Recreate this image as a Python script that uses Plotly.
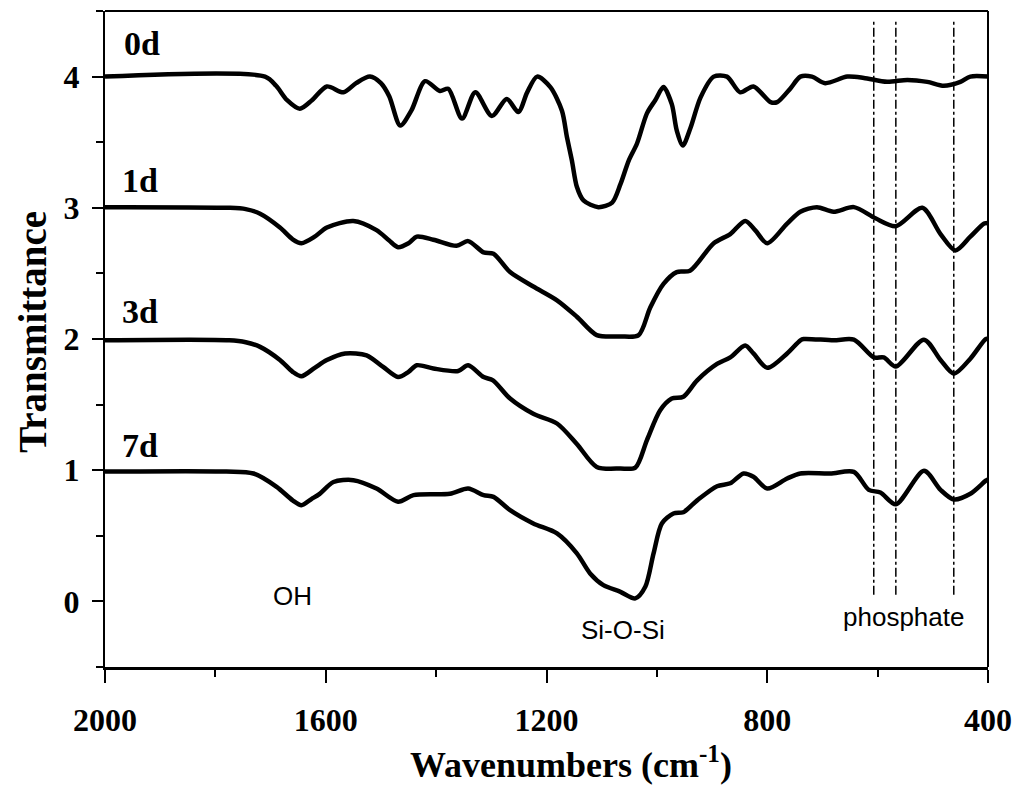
import plotly.graph_objects as go

# ---- data ----
wn_0d = [2000, 1710, 1690, 1670, 1647, 1625, 1598, 1568, 1545, 1520, 1500, 1485, 1465, 1445, 1420,
         1393, 1378, 1353, 1329, 1299, 1272, 1251, 1235, 1217, 1193, 1172, 1163, 1154, 1145, 1133,
         1106, 1081, 1066, 1051, 1036, 1018, 1003, 988, 973, 964, 953, 939, 921, 897, 873, 849, 825,
         794, 782, 758, 740, 719, 695, 655, 625, 583, 546, 510, 480, 450, 432, 400]
t_0d = [4.0, 4.0, 3.93, 3.82, 3.755, 3.82, 3.925, 3.88, 3.95, 4.0, 3.95, 3.85, 3.627, 3.74, 3.965,
        3.89, 3.907, 3.68, 3.88, 3.70, 3.83, 3.73, 3.88, 4.0, 3.92, 3.74, 3.54, 3.36, 3.16, 3.056,
        3.005, 3.04, 3.18, 3.36, 3.49, 3.72, 3.82, 3.92, 3.79, 3.59, 3.475, 3.61, 3.84, 4.0, 4.0, 3.88, 3.925,
        3.805, 3.805, 3.91, 4.0, 4.0, 3.95, 4.0, 3.99, 3.96, 3.975, 3.96, 3.93, 3.96, 4.0, 4.0]

wn_1d = [2000, 1775, 1745, 1719, 1683, 1660, 1644, 1620, 1598, 1550, 1508, 1485, 1469, 1450, 1435,
         1405, 1363, 1342, 1314, 1296, 1266, 1224, 1181, 1145, 1109, 1066, 1033, 1012, 988, 964, 940,
         897, 867, 840, 822, 800, 764, 740, 710, 680, 643, 604, 567, 519, 486, 459, 432, 407, 400]
t_1d = [3.005, 3.0, 2.99, 2.955, 2.85, 2.76, 2.73, 2.78, 2.85, 2.90, 2.83, 2.75, 2.70, 2.73, 2.78,
        2.757, 2.71, 2.746, 2.66, 2.65, 2.51, 2.40, 2.295, 2.17, 2.03, 2.02, 2.03, 2.24, 2.42, 2.51, 2.52,
        2.73, 2.80, 2.90, 2.83, 2.73, 2.88, 2.97, 3.005, 2.97, 3.005, 2.92, 2.86, 3.0, 2.80, 2.675, 2.78, 2.88, 2.885]

wn_3d = [2000, 1775, 1745, 1719, 1683, 1660, 1644, 1620, 1598, 1565, 1526, 1496, 1469, 1450, 1435,
         1405, 1360, 1342, 1314, 1297, 1266, 1224, 1181, 1145, 1109, 1066, 1039, 1018, 994, 973, 952,
         927, 891, 867, 840, 825, 800, 764, 740, 734, 680, 643, 607, 589, 567, 516, 486, 462, 432, 404, 400]
t_3d = [1.99, 1.99, 1.975, 1.94, 1.84, 1.75, 1.716, 1.78, 1.84, 1.89, 1.876, 1.787, 1.71, 1.75, 1.80,
        1.775, 1.756, 1.80, 1.71, 1.685, 1.546, 1.43, 1.356, 1.20, 1.025, 1.013, 1.02, 1.23, 1.457, 1.546, 1.56,
        1.685, 1.81, 1.86, 1.95, 1.89, 1.78, 1.89, 1.99, 2.0, 1.99, 1.995, 1.86, 1.86, 1.79, 1.995, 1.84, 1.736, 1.85, 2.0, 2.0]

wn_7d = [2000, 1780, 1731, 1689, 1660, 1644, 1626, 1611, 1586, 1550, 1508, 1469, 1441, 1375, 1342,
         1314, 1296, 1266, 1224, 1181, 1145, 1121, 1097, 1066, 1039, 1021, 1006, 991, 970, 952, 927,
         891, 867, 843, 825, 800, 764, 740, 686, 643, 616, 595, 567, 516, 486, 462, 432, 404, 400]
t_7d = [0.99, 0.99, 0.975, 0.873, 0.77, 0.733, 0.78, 0.82, 0.91, 0.924, 0.86, 0.76, 0.81, 0.82, 0.86,
        0.81, 0.797, 0.695, 0.594, 0.518, 0.366, 0.213, 0.124, 0.073, 0.023, 0.111, 0.366, 0.594, 0.67, 0.68, 0.77,
        0.878, 0.90, 0.975, 0.95, 0.86, 0.937, 0.975, 0.975, 0.987, 0.85, 0.83, 0.74, 0.995, 0.85, 0.777, 0.82, 0.92, 0.93]

series = [("0d", wn_0d, t_0d), ("1d", wn_1d, t_1d), ("3d", wn_3d, t_3d), ("7d", wn_7d, t_7d)]
label_pos = {"0d": (1970, 4.25), "1d": (1972, 3.21), "3d": (1972, 2.21), "7d": (1972, 1.19)}

phosphate_bands = [607, 567, 462]
band_y = [0.05, 4.42]

band_labels = [("OH", 1660, 0.04), ("Si-O-Si", 1061, -0.22), ("phosphate", 553, -0.12)]

x_ticks = [2000, 1600, 1200, 800, 400]
y_ticks = [0, 1, 2, 3, 4]

SERIF = "Liberation Serif"
SANS = "Liberation Sans"

fig = go.Figure()
for name, wn, t in series:
    fig.add_trace(go.Scatter(x=wn, y=t, mode="lines", name=name,
                             line=dict(color="black", width=4.5, shape="spline", smoothing=0.8),
                             showlegend=False, hoverinfo="skip"))

for b in phosphate_bands:
    fig.add_trace(go.Scatter(x=[b, b], y=band_y, mode="lines",
                             line=dict(color="black", width=1.5, dash="dashdot"),
                             showlegend=False, hoverinfo="skip"))

for name, (lx, ly) in label_pos.items():
    fig.add_annotation(x=lx, y=ly, text=name, showarrow=False, xanchor="left", yanchor="middle",
                       font=dict(family=SERIF, size=34, color="black", weight="bold"))

for txt, lx, ly in band_labels:
    fig.add_annotation(x=lx, y=ly, text=txt, showarrow=False, xanchor="center", yanchor="middle",
                       font=dict(family=SANS, size=26, color="black"))

# axis titles
fig.add_annotation(xref="paper", yref="paper", x=0.528, y=-0.146, yanchor="middle",
                   text="Wavenumbers (cm<sup>-1</sup>)", showarrow=False,
                   font=dict(family=SERIF, size=36, color="black", weight="bold"))
fig.add_annotation(xref="paper", yref="paper", x=-0.0815, y=0.511, xanchor="center",
                   text="Transmittance", textangle=-90, showarrow=False,
                   font=dict(family=SERIF, size=39, color="black", weight="bold"))

# thin top/right frame
fig.add_shape(type="line", xref="paper", yref="paper", x0=0, x1=1, y0=1, y1=1,
              line=dict(color="black", width=2))
fig.add_shape(type="line", xref="paper", yref="paper", x0=1, x1=1, y0=0, y1=1,
              line=dict(color="black", width=2))

fig.update_xaxes(range=[2000, 400], tickmode="array", tickvals=x_ticks,
                 ticktext=[str(v) for v in x_ticks],
                 showgrid=False, zeroline=False, showline=True, linecolor="black", linewidth=3,
                 ticks="outside", ticklen=13, tickwidth=2, tickcolor="black",
                 minor=dict(ticks="outside", ticklen=7, tickwidth=2, tickcolor="black", dtick=200, tick0=400),
                 ticklabelstandoff=10,
                 tickfont=dict(family=SERIF, size=32, color="black", weight="bold"))
fig.update_yaxes(range=[-0.5, 4.5], tickmode="array", tickvals=y_ticks,
                 ticktext=[str(v) for v in y_ticks],
                 showgrid=False, zeroline=False, showline=True, linecolor="black", linewidth=2,
                 ticks="outside", ticklen=11, tickwidth=2, tickcolor="black",
                 minor=dict(ticks="outside", ticklen=7, tickwidth=2, tickcolor="black", dtick=0.5, tick0=0),
                 ticklabelstandoff=6,
                 tickfont=dict(family=SERIF, size=32, color="black", weight="bold"))

# page body has an 8px margin: shrink the figure and shift margins to compensate
fig.update_layout(width=1013, height=782, margin=dict(l=97, r=33, t=3, b=123),
                  plot_bgcolor="white", paper_bgcolor="white")

fig.write_html("out.html")
